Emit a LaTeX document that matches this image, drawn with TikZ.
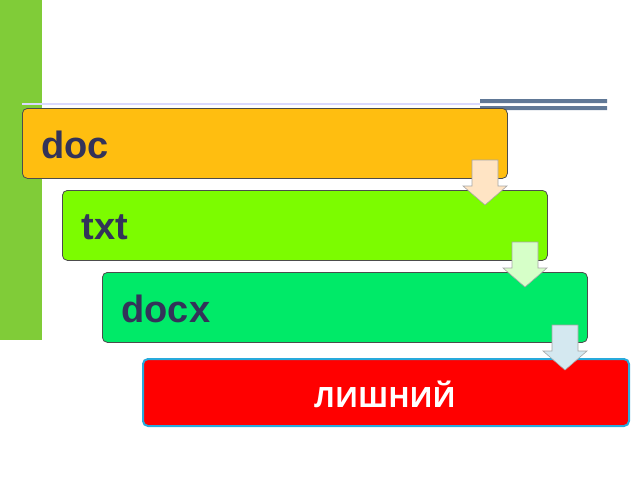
\documentclass[tikz,border=0pt]{standalone}
\usepackage{fontspec}
\setmainfont{Liberation Sans}
\newfontfamily\cyrf{Open Sans}
\begin{document}
\begin{tikzpicture}[x=1pt,y=-1pt,
  bar/.style={draw=black!70,line width=0.8pt,rounded corners=5pt,anchor=north west,minimum width=485pt,minimum height=70pt,inner sep=0pt},
  lbl/.style={font=\bfseries\fontsize{38}{40}\selectfont,text=black!75!blue!60!gray},
  arr/.style={draw=gray!70,line width=0.6pt}]
\useasboundingbox (0,0) rectangle (640,480);
\fill[green!60!black!40!yellow!80!green] (0,0) rectangle (42,340);
\fill[fill={rgb,255:red,128;green,204;blue,56}] (0,0) rectangle (42,340);
\draw[blue!15,line width=1.5pt] (22,104) -- (480,104);
\fill[fill={rgb,255:red,96;green,120;blue,150}] (480,99) rectangle (607,103) (480,106) rectangle (607,110);
\node[bar,fill={rgb,255:red,255;green,190;blue,16}] (b1) at (22,108) {};
\node[lbl,anchor=west] at (38,145) {doc};
\node[bar,fill={rgb,255:red,124;green,252;blue,0}] (b2) at (62,190) {};
\node[lbl,anchor=west] at (78,227) {txt};
\node[bar,fill={rgb,255:red,0;green,234;blue,104}] (b3) at (102,272) {};
\node[lbl,anchor=west] at (118,309) {docx};
\node[bar,draw={rgb,255:red,40;green,170;blue,220},line width=2pt,fill=red,minimum width=486pt,minimum height=67pt] (b4) at (142,358) {};
\node[font=\cyrf\bfseries\fontsize{28}{30}\selectfont,text=white] at (385,394) {ЛИШНИЙ};
\foreach \x/\y/\c in {463/160/{rgb,255:red,255;green,228;blue,196},503/242/{rgb,255:red,214;green,255;blue,200},543/325/{rgb,255:red,212;green,232;blue,240}}
  \filldraw[arr,fill=\c] (\x+9,\y) -- (\x+35,\y) -- (\x+35,\y+26) -- (\x+44,\y+26) -- (\x+22,\y+45) -- (\x,\y+26) -- (\x+9,\y+26) -- cycle;
\end{tikzpicture}
\end{document}
